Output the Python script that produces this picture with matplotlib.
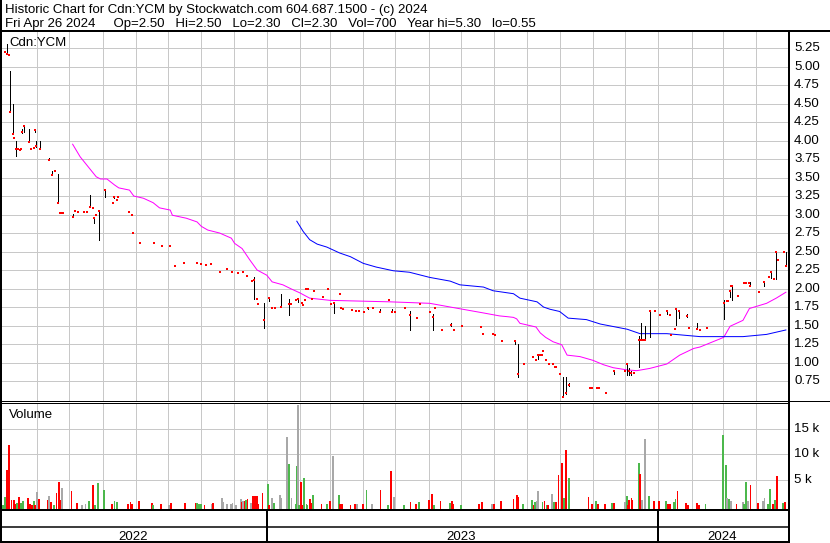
import numpy as np
import matplotlib
matplotlib.use('Agg')
import matplotlib.pyplot as plt
import matplotlib.dates as mdates
from matplotlib.lines import Line2D
from matplotlib.transforms import blended_transform_factory

plt.rcParams['font.family'] = ['Liberation Sans', 'DejaVu Sans']

# ---------------- data ----------------
START = '2022-05-01'          # day offsets below are counted from this date
header_line1 = "Historic Chart for Cdn:YCM by Stockwatch.com 604.687.1500 - (c) 2024"
header_line2 = "Fri Apr 26 2024     Op=2.50   Hi=2.50   Lo=2.30   Cl=2.30   Vol=700   Year hi=5.30   lo=0.55"
symbol = "Cdn:YCM"
price_ticks = [0.75, 1.00, 1.25, 1.50, 1.75, 2.00, 2.25, 2.50, 2.75, 3.00,
               3.25, 3.50, 3.75, 4.00, 4.25, 4.50, 4.75, 5.00, 5.25]
vol_ticks = [5, 10, 15]
vol_tick_labels = ['5 k', '10 k', '15 k']
years = ['2022', '2023', '2024']

price_day = [1, 3, 5, 6, 8, 9, 11, 13, 15, 16,
             17, 19, 23, 25, 28, 29, 30, 34, 42, 45,
             48, 50, 52, 53, 55, 64, 66, 69, 75, 77,
             80, 83, 84, 86, 89, 94, 102, 103, 105, 106,
             117, 119, 120, 127, 140, 147, 155, 159, 168, 180,
             184, 188, 193, 201, 208, 213, 218, 223, 227, 231,
             233, 236, 237, 242, 247, 250, 253, 258, 266, 268,
             272, 274, 278, 279, 281, 282, 283, 287, 289, 297,
             302, 305, 308, 313, 314, 316, 324, 328, 331, 336,
             339, 344, 351, 359, 362, 365, 374, 379, 385, 388,
             397, 400, 402, 408, 417, 420, 427, 445, 447, 456,
             458, 464, 476, 479, 485, 493, 496, 498, 500, 502,
             503, 505, 508, 512, 514, 515, 518, 521, 524, 527,
             546, 548, 553, 555, 561, 569, 579, 581, 583, 585,
             587, 592, 594, 596, 598, 602, 607, 612, 618, 621,
             622, 626, 627, 629, 637, 639, 646, 649, 655, 671,
             674, 675, 677, 678, 679, 684, 690, 692, 695, 696,
             704, 709, 713, 715, 718, 720, 722, 727, 729]
price_close = [5.20, 5.17, 5.15, 4.39, 4.09, 4.04, 3.88, 3.88, 3.87, 3.88,
               4.11, 4.19, 3.98, 3.89, 3.90, 4.14, 3.92, 3.89, 3.74, 3.53,
               3.59, 3.16, 3.02, 3.02, 3.02, 2.96, 3.05, 3.03, 3.03, 3.03,
               3.10, 3.09, 2.95, 3.00, 3.05, 3.33, 3.15, 3.23, 3.19, 3.24,
               3.03, 3.00, 2.75, 2.61, 2.62, 2.58, 2.58, 2.30, 2.34, 2.34,
               2.33, 2.32, 2.33, 2.22, 2.26, 2.22, 2.21, 2.22, 2.17, 2.10,
               2.12, 1.86, 1.79, 1.57, 1.87, 1.74, 1.74, 1.75, 1.79, 1.79,
               1.84, 1.86, 1.80, 1.78, 1.84, 2.00, 2.00, 1.86, 1.97, 1.88,
               1.99, 1.79, 1.80, 1.93, 1.74, 1.73, 1.71, 1.69, 1.69, 1.68,
               1.74, 1.74, 1.68, 1.84, 1.68, 1.68, 1.74, 1.64, 1.60, 1.79,
               1.68, 1.62, 1.74, 1.44, 1.51, 1.44, 1.49, 1.48, 1.39, 1.39,
               1.37, 1.29, 1.29, 0.85, 0.98, 1.08, 1.04, 1.10, 1.10, 1.10,
               1.15, 1.04, 0.98, 0.98, 0.94, 0.94, 0.85, 0.54, 0.59, 0.70,
               0.65, 0.65, 0.65, 0.65, 0.59, 0.88, 0.88, 0.98, 0.89, 0.86,
               0.86, 1.30, 1.30, 1.30, 1.30, 1.69, 1.69, 1.64, 1.69, 1.64,
               1.37, 1.45, 1.72, 1.69, 1.63, 1.47, 1.45, 1.44, 1.47, 1.80,
               1.83, 1.83, 1.96, 2.04, 2.04, 1.90, 2.07, 2.07, 2.07, 2.03,
               1.95, 2.09, 2.15, 2.22, 2.13, 2.49, 2.38, 2.50, 2.30]
price_high = [5.20, 5.30, 5.15, 4.94, 4.50, 4.04, 3.99, 3.88, 3.87, 3.88,
              4.15, 4.20, 4.15, 3.89, 3.90, 4.15, 3.99, 3.99, 3.77, 3.59,
              3.59, 3.55, 3.02, 3.02, 3.02, 3.01, 3.05, 3.03, 3.03, 3.03,
              3.26, 3.09, 2.96, 3.00, 3.06, 3.34, 3.15, 3.24, 3.19, 3.24,
              3.03, 3.00, 2.75, 2.61, 2.62, 2.58, 2.58, 2.30, 2.34, 2.34,
              2.33, 2.32, 2.33, 2.22, 2.26, 2.22, 2.21, 2.22, 2.17, 2.10,
              2.15, 1.86, 1.79, 1.80, 1.88, 1.74, 1.74, 1.92, 1.86, 1.79,
              1.84, 1.86, 1.80, 1.78, 1.84, 2.00, 2.00, 1.86, 1.97, 1.88,
              1.99, 1.79, 1.80, 1.93, 1.74, 1.73, 1.71, 1.69, 1.69, 1.68,
              1.75, 1.74, 1.73, 1.84, 1.73, 1.68, 1.74, 1.70, 1.60, 1.79,
              1.68, 1.65, 1.74, 1.44, 1.53, 1.44, 1.49, 1.48, 1.39, 1.39,
              1.37, 1.29, 1.30, 1.25, 0.98, 1.08, 1.04, 1.10, 1.10, 1.10,
              1.15, 1.04, 0.98, 0.98, 0.94, 0.94, 0.85, 0.81, 0.81, 0.72,
              0.65, 0.65, 0.65, 0.65, 0.59, 0.89, 0.88, 0.99, 0.92, 0.89,
              0.86, 1.36, 1.54, 1.30, 1.49, 1.69, 1.69, 1.64, 1.70, 1.64,
              1.37, 1.45, 1.73, 1.69, 1.65, 1.47, 1.54, 1.44, 1.47, 1.84,
              1.83, 1.83, 1.96, 2.04, 2.04, 1.90, 2.07, 2.07, 2.07, 2.09,
              1.95, 2.09, 2.15, 2.24, 2.13, 2.49, 2.38, 2.50, 2.50]
price_low = [5.20, 5.17, 5.15, 4.39, 4.09, 4.04, 3.79, 3.88, 3.87, 3.88,
             4.10, 4.12, 3.98, 3.89, 3.90, 4.11, 3.91, 3.89, 3.74, 3.53,
             3.59, 3.15, 3.02, 3.02, 3.02, 2.96, 3.05, 3.03, 3.03, 3.03,
             3.10, 3.09, 2.88, 3.00, 2.65, 3.24, 3.15, 3.22, 3.19, 3.24,
             3.03, 3.00, 2.75, 2.61, 2.62, 2.58, 2.58, 2.30, 2.34, 2.34,
             2.33, 2.32, 2.33, 2.22, 2.26, 2.22, 2.21, 2.22, 2.17, 2.10,
             1.86, 1.86, 1.79, 1.47, 1.83, 1.74, 1.74, 1.75, 1.64, 1.79,
             1.84, 1.82, 1.80, 1.78, 1.84, 2.00, 2.00, 1.86, 1.97, 1.88,
             1.99, 1.79, 1.67, 1.93, 1.74, 1.73, 1.71, 1.69, 1.69, 1.68,
             1.73, 1.74, 1.68, 1.84, 1.68, 1.68, 1.74, 1.44, 1.60, 1.79,
             1.68, 1.44, 1.74, 1.44, 1.49, 1.44, 1.49, 1.48, 1.39, 1.39,
             1.37, 1.29, 1.25, 0.80, 0.98, 1.08, 1.04, 1.05, 1.10, 1.10,
             1.15, 1.04, 0.98, 0.98, 0.94, 0.94, 0.85, 0.53, 0.58, 0.68,
             0.65, 0.65, 0.65, 0.65, 0.59, 0.85, 0.88, 0.83, 0.83, 0.83,
             0.86, 0.94, 1.30, 1.30, 1.30, 1.34, 1.69, 1.64, 1.65, 1.64,
             1.37, 1.45, 1.51, 1.60, 1.61, 1.47, 1.45, 1.44, 1.47, 1.59,
             1.83, 1.83, 1.88, 2.04, 1.84, 1.90, 2.07, 2.07, 2.07, 2.03,
             1.95, 2.03, 2.15, 2.14, 2.13, 2.13, 2.38, 2.50, 2.30]

ma_short_day = [64, 71, 86, 90, 96, 103, 107, 117, 121, 130, 139, 145, 155, 157,
                170, 180, 184, 190, 201, 212, 215, 222, 229, 236, 245, 250, 260,
                267, 276, 285, 304, 360, 397, 416, 447, 462, 469, 475, 478, 481,
                490, 496, 500, 505, 512, 520, 525, 537, 549, 559, 568, 581, 590,
                602, 618, 630, 643, 649, 671, 677, 689, 695, 711, 720, 729]
ma_short_val = [3.95, 3.78, 3.51, 3.48, 3.48, 3.40, 3.36, 3.33, 3.25, 3.22, 3.16, 3.09, 3.06, 2.99,
                2.95, 2.90, 2.84, 2.79, 2.75, 2.68, 2.61, 2.54, 2.39, 2.25, 2.18, 2.09, 2.05,
                2.00, 1.94, 1.87, 1.84, 1.82, 1.80, 1.75, 1.67, 1.63, 1.62, 1.61, 1.59, 1.53,
                1.50, 1.48, 1.40, 1.34, 1.28, 1.24, 1.10, 1.08, 1.03, 0.97, 0.93, 0.90, 0.89,
                0.92, 0.98, 1.10, 1.19, 1.21, 1.34, 1.49, 1.57, 1.73, 1.80, 1.87, 1.95]
ma_long_day = [273, 279, 285, 292, 301, 313, 323, 335, 347, 363, 378, 397, 416, 425,
               447, 456, 475, 481, 497, 503, 509, 518, 526, 543, 556, 581, 593, 618,
               649, 689, 711, 729]
ma_long_val = [2.91, 2.77, 2.66, 2.60, 2.56, 2.48, 2.43, 2.34, 2.29, 2.24, 2.22, 2.15, 2.10, 2.05,
               2.02, 1.97, 1.93, 1.87, 1.82, 1.75, 1.72, 1.69, 1.60, 1.58, 1.52, 1.45, 1.39, 1.39,
               1.35, 1.35, 1.38, 1.44]

vol_day = [-1, 1, 3, 4, 5, 7, 9, 10, 12, 14,
           16, 17, 18, 22, 24, 26, 28, 29, 31, 33,
           41, 42, 44, 47, 49, 51, 52, 54, 63, 68,
           73, 76, 79, 83, 85, 88, 93, 101, 103, 105,
           116, 118, 119, 126, 138, 139, 146, 154, 156, 169,
           179, 180, 182, 184, 187, 194, 195, 203, 204, 208,
           212, 213, 216, 221, 222, 223, 225, 226, 227, 230,
           232, 234, 236, 237, 241, 246, 247, 250, 252, 257,
           258, 264, 266, 268, 272, 273, 274, 275, 277, 278,
           280, 282, 283, 285, 287, 288, 296, 301, 304, 307,
           312, 313, 315, 323, 327, 329, 335, 338, 343, 351,
           358, 361, 364, 373, 379, 384, 387, 396, 399, 401,
           407, 416, 418, 419, 426, 443, 446, 455, 457, 463,
           475, 478, 479, 484, 492, 494, 495, 497, 498, 502,
           504, 506, 507, 511, 513, 515, 517, 520, 522, 524,
           527, 545, 548, 552, 554, 560, 567, 569, 579, 581,
           582, 583, 585, 586, 592, 593, 595, 598, 601, 606,
           611, 617, 619, 621, 625, 626, 628, 636, 638, 646,
           648, 654, 670, 673, 674, 676, 678, 683, 689, 690,
           692, 694, 696, 703, 708, 709, 712, 714, 717, 719,
           721, 726, 728]
vol_k = [0.1, 1.6, 7.0, 2.1, 11.9, 1.1, 1.1, 0.2, 0.5, 1.6,
         0.4, 0.2, 0.9, 1.4, 0.2, 0.1, 0.9, 0.1, 2.6, 1.3,
         1.1, 1.9, 0.6, 0.1, 2.5, 4.6, 1.1, 3.4, 2.8, 0.4,
         0.1, 0.2, 0.9, 4.0, 0.1, 4.4, 3.0, 0.3, 0.8, 0.6,
         0.2, 0.6, 0.2, 0.8, 0.4, 0.1, 0.2, 0.1, 0.5, 0.5,
         0.5, 0.5, 0.2, 0.2, 0.1, 0.3, 0.5, 1.5, 0.6, 0.3,
         0.3, 0.5, 0.1, 1.3, 0.6, 0.8, 0.8, 1.1, 1.3, 0.5,
         1.9, 1.9, 1.9, 0.2, 2.4, 4.2, 0.1, 1.5, 0.5, 2.1,
         1.5, 13.4, 8.1, 1.5, 0.3, 7.7, 19.7, 0.1, 4.6, 0.1,
         5.4, 0.3, 0.1, 1.3, 0.5, 2.1, 0.3, 0.3, 0.9, 9.7,
         2.1, 0.3, 0.2, 0.1, 0.3, 0.2, 0.3, 3.0, 0.3, 3.0,
         0.1, 6.8, 1.7, 0.1, 0.6, 0.2, 0.6, 1.1, 2.3, 0.1,
         0.8, 0.5, 0.8, 0.2, 0.1, 0.2, 0.6, 0.3, 0.2, 0.8,
         1.3, 2.1, 1.7, 0.2, 1.1, 0.1, 0.6, 0.9, 2.8, 0.6,
         0.8, 0.1, 0.1, 2.3, 0.6, 0.6, 6.0, 8.4, 1.5, 10.9,
         5.4, 1.7, 0.3, 0.9, 0.2, 0.2, 0.4, 0.4, 0.6, 1.9,
         0.1, 1.1, 1.5, 1.1, 8.3, 6.2, 1.1, 13.0, 1.9, 0.8,
         0.9, 0.8, 0.2, 0.2, 0.6, 1.3, 2.8, 0.5, 0.1, 0.5,
         0.1, 0.3, 13.8, 7.9, 1.5, 1.3, 0.8, 0.2, 0.6, 0.3,
         4.6, 0.8, 4.0, 0.5, 0.9, 1.5, 0.2, 3.2, 0.2, 1.1,
         5.8, 0.5, 0.7]
# r = down day, g = up day, n = unchanged
vol_dir = ("ggrrrrrrgr" "gggrrrgrnr" "rnrgrrrnrr" "nngrgggrgg" "rrrrrgrnrr"
           "rgggrnrnnn" "nnnnrnrgrn" "rrrrrgrngn" "nngnggngrr" "gggrrgrgrn"
           "grrrrnrgnr" "grngrrgrrg" "rgrrgrrnrr" "rrrggrgnng" "rgrngrrrgr"
           "grrgrrgrng" "rrrrgrnngr" "rgrrggrrrr" "rgggngnrng" "gnrrnnggrg"
           "rgr")

# ---------------- layout (pixel based) ----------------
W, H = 830, 543
fig = plt.figure(figsize=(W / 100, H / 100), dpi=100)
fig.patch.set_facecolor('white')

def fx(x):
    return x / W

def fy(y):
    return 1 - y / H

PX = 0.72  # one pixel in points
GRID = '#c8c8c8'
COLORS = {'r': '#ff0000', 'g': '#4cb84c', 'n': '#a8a8a8'}
FS = 9.5

base = np.datetime64(START)
def to_dates(days):
    return base + np.array(days, dtype='timedelta64[D]')

x0 = mdates.date2num(base)
xlim = (x0 - 1.86, x0 + 731.9)
month_starts = np.arange(np.datetime64('2022-06'), np.datetime64('2024-05'),
                         dtype='datetime64[M]').astype('datetime64[D]')

LEFT, RIGHT = 2, 789

def make_ax(top, bottom):
    ax = fig.add_axes([fx(LEFT), fy(bottom), fx(RIGHT) - fx(LEFT), fy(top) - fy(bottom)])
    ax.set_xlim(*xlim)
    for s in ax.spines.values():
        s.set_visible(False)
    ax.tick_params(left=False, right=False, top=False, bottom=False,
                   labelleft=False, labelbottom=False)
    ax.set_facecolor('white')
    return ax

# ---- price panel ----
axp = make_ax(31, 401)
axp.set_ylim(0.48, 5.48)
axp.set_xticks(mdates.date2num(month_starts))
axp.set_yticks(price_ticks)
axp.grid(True, color=GRID, lw=1.0 * PX, zorder=0, antialiased=False)
axp.set_axisbelow(True)

pd_ = to_dates(price_day)
hi = np.array(price_high)
lo = np.array(price_low)
cl = np.array(price_close)
rng = hi > lo
axp.vlines(pd_[rng], lo[rng], hi[rng], color='black', lw=1.0 * PX, zorder=3,
           antialiased=False)
axp.plot(pd_, cl, linestyle='none', marker='s', ms=2.7 * PX, mew=0,
         color='#ff0000', zorder=4, antialiased=False)
axp.plot(to_dates(ma_short_day), ma_short_val, color='#ff00ff', lw=1.0 * PX, zorder=2,
         antialiased=True)
axp.plot(to_dates(ma_long_day), ma_long_val, color='#0000ff', lw=1.0 * PX, zorder=2,
         antialiased=True)
axp.text(fx(9), fy(45.5), symbol, transform=fig.transFigure, fontsize=FS,
         va='baseline', ha='left')

tp = blended_transform_factory(fig.transFigure, axp.transData)
for v in price_ticks:
    axp.text(fx(794), v, f"{v:.2f}", transform=tp, fontsize=FS, va='center',
             ha='left', clip_on=False)

# ---- volume panel ----
axv = make_ax(403, 509)
ylo = -0.69
axv.set_ylim(ylo, 20.1)
axv.set_xticks(mdates.date2num(month_starts))
axv.set_yticks(vol_ticks)
axv.grid(True, color=GRID, lw=1.0 * PX, zorder=0, antialiased=False)
axv.set_axisbelow(True)
vk = np.array(vol_k)
axv.bar(to_dates(vol_day), vk - ylo, bottom=ylo, width=1.7,
        color=[COLORS[c] for c in vol_dir], linewidth=0, zorder=3,
        antialiased=False)
axv.text(fx(9), fy(418.3), "Volume", transform=fig.transFigure, fontsize=FS,
         va='baseline', ha='left')
tv = blended_transform_factory(fig.transFigure, axv.transData)
for v, lab in zip(vol_ticks, vol_tick_labels):
    axv.text(fx(794), v, lab, transform=tv, fontsize=FS, va='center',
             ha='left', clip_on=False)

# ---- date band ----
axb = make_ax(510, 541)
axb.set_ylim(0, 1)
year_bounds = [xlim[0], mdates.date2num(np.datetime64('2023-01-01')),
               mdates.date2num(np.datetime64('2024-01-01')), xlim[1]]
for xb in year_bounds[1:-1]:
    axb.axvline(xb, color='black', lw=2 * PX)
for i, yr in enumerate(years):
    axb.text((year_bounds[i] + year_bounds[i + 1]) / 2 - 1.5, 0.04, yr, fontsize=FS,
             ha='center', va='baseline')

# ---- header ----
fig.text(fx(5), fy(12.5), header_line1, fontsize=FS, va='baseline', ha='left')
fig.text(fx(5), fy(26.5), header_line2, fontsize=FS, va='baseline', ha='left')

# ---- frame lines ----
def hline(y, x1, x2, lw):
    fig.add_artist(Line2D([fx(x1), fx(x2)], [fy(y), fy(y)], color='black',
                          lw=lw * PX, transform=fig.transFigure, solid_capstyle='butt'))

def vline(x, y1, y2, lw):
    fig.add_artist(Line2D([fx(x), fx(x)], [fy(y1), fy(y2)], color='black',
                          lw=lw * PX, transform=fig.transFigure, solid_capstyle='butt'))

hline(31, 0, 830, 2)
hline(401, 0, 830, 1)
hline(403, 0, 789, 1)
hline(509.5, 0, 789, 2)
hline(526.5, 0, 789, 1.5)
hline(541.5, 0, 789, 2)
vline(1, 0, 543, 2)
vline(789, 31, 543, 2)

fig.savefig('out.png', dpi=100, facecolor='white')
